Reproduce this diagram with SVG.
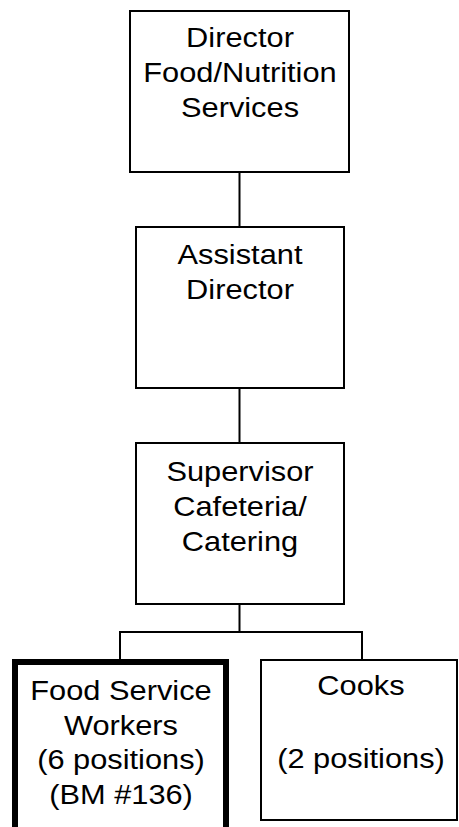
<svg xmlns="http://www.w3.org/2000/svg" width="459" height="827" viewBox="0 0 459 827">
<style>
.box{fill:#fff;stroke:#000;stroke-width:2}
.thick{fill:#fff;stroke:#000;stroke-width:6}
.conn{fill:none;stroke:#000;stroke-width:2}
text{font-family:"Liberation Sans",Arial,sans-serif;font-size:27.5px;fill:#000;text-anchor:middle}
</style>
<rect width="459" height="827" fill="#fff"/>
<g id="connectors">
<line class="conn" x1="239.5" y1="172" x2="239.5" y2="227"/>
<line class="conn" x1="239.5" y1="388" x2="239.5" y2="443"/>
<line class="conn" x1="239.5" y1="604" x2="239.5" y2="632"/>
<polyline class="conn" points="120,660 120,632 362,632 362,660"/>
</g>
<g id="director">
<rect class="box" x="130" y="11" width="219" height="161"/>
<text transform="translate(240,46.5) scale(1.12,1)">Director</text>
<text transform="translate(240,81.5) scale(1.12,1)">Food/Nutrition</text>
<text transform="translate(240,116.5) scale(1.12,1)">Services</text>
</g>
<g id="assistant">
<rect class="box" x="136" y="227" width="208" height="161"/>
<text transform="translate(240,263.5) scale(1.12,1)">Assistant</text>
<text transform="translate(240,298.5) scale(1.12,1)">Director</text>
</g>
<g id="supervisor">
<rect class="box" x="136" y="443" width="208" height="161"/>
<text transform="translate(240,480.5) scale(1.12,1)">Supervisor</text>
<text transform="translate(240,515.5) scale(1.12,1)">Cafeteria/</text>
<text transform="translate(240,550.5) scale(1.12,1)">Catering</text>
</g>
<g id="food-service-workers">
<rect class="thick" x="15" y="662" width="211" height="175"/>
<text transform="translate(121,700) scale(1.12,1)">Food Service</text>
<text transform="translate(121,734.5) scale(1.12,1)">Workers</text>
<text transform="translate(121,769) scale(1.12,1)">(6 positions)</text>
<text transform="translate(121,803.5) scale(1.12,1)">(BM #136)</text>
</g>
<g id="cooks">
<rect class="box" x="261" y="660" width="196" height="160"/>
<text transform="translate(361,695) scale(1.12,1)">Cooks</text>
<text transform="translate(361,768) scale(1.12,1)">(2 positions)</text>
</g>
</svg>
